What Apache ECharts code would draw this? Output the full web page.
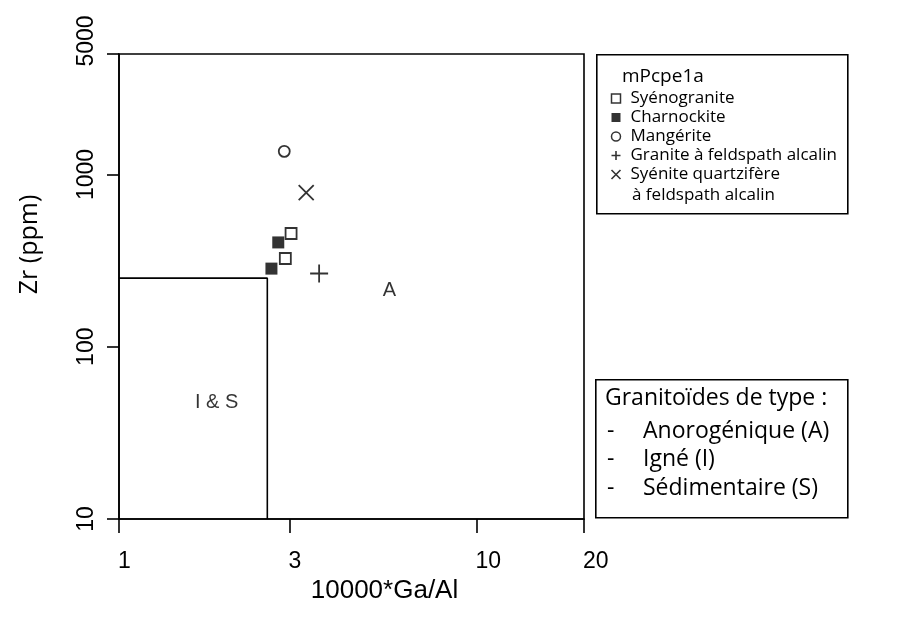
<!DOCTYPE html>
<html><head><meta charset="utf-8">
<script src="https://cdn.jsdelivr.net/npm/echarts@6/dist/echarts.min.js"></script>
<style>html,body{margin:0;padding:0;background:#fff}#c{width:915px;height:621px}</style>
</head><body><div id="c"></div>
<script>
// ---- data ----
const xTicks = [1, 3, 10, 20];
const yTicks = [10, 100, 1000, 5000];
const syenogranite = [[3.03, 454], [2.92, 325]];
const charnockite = [[2.79, 403], [2.67, 284]];
const mangerite = [[2.90, 1361]];
const graniteAlcalin = [[3.63, 266]];
const syeniteQz = [[3.34, 785]];
const boundary = [[1, 250], [2.6, 250], [2.6, 10]];
const fieldLabels = [[5.71, 213, 'A'], [1.876, 47.5, 'I & S']];
const names = ['Syénogranite', 'Charnockite', 'Mangérite', 'Granite à feldspath alcalin', 'Syénite quartzifère'];
const legendTitle = 'mPcpe1a';
const legendExtraLine = 'à feldspath alcalin';
const typeTitle = 'Granitoïdes de type :';
const typeItems = ['Anorogénique (A)', 'Igné (I)', 'Sédimentaire (S)'];

const BLK = '#000';
const HF = '"Open Sans", "Noto Sans", sans-serif';
const AF = '"Liberation Sans", Arial, sans-serif';
const PLUS = 'path://M0,10L20,10M10,0L10,20';
const CROSS = 'path://M0,0L20,20M20,0L0,20';

const chart = echarts.init(document.getElementById('c'), null, {renderer: 'canvas'});

const typeGraphics = [];
typeItems.forEach((t, i) => {
  const y = 431 + i * 28.7;
  typeGraphics.push({type: 'text', x: 607, y: y, style: {text: '-', font: '23px ' + HF, fill: BLK, verticalAlign: 'middle'}});
  typeGraphics.push({type: 'text', x: 643, y: y, style: {text: t, font: '23px ' + HF, fill: BLK, verticalAlign: 'middle'}});
});

const option = {
  backgroundColor: '#fff',
  animation: false,
  grid: {left: 119, top: 54, width: 465, height: 465, show: true, borderColor: BLK, borderWidth: 1.6, containLabel: false},
  xAxis: {
    type: 'log', logBase: 10, min: 1, max: 20,
    axisLine: {show: true, onZero: false, lineStyle: {color: BLK, width: 1.6}},
    axisTick: {show: true, customValues: xTicks, length: 14, lineStyle: {color: BLK, width: 1.6}},
    axisLabel: {show: true, customValues: xTicks, margin: 31, fontSize: 23, color: BLK, fontFamily: AF,
      align: 'left', padding: [0, 0, 0, -1], formatter: v => String(v)},
    minorTick: {show: false}, splitLine: {show: false},
    name: '10000*Ga/Al', nameLocation: 'middle', nameGap: 55,
    nameTextStyle: {fontSize: 26, color: BLK, fontFamily: AF, padding: [0, 0, 0, 66]}
  },
  yAxis: {
    type: 'log', logBase: 10, min: 10, max: 5000,
    axisLine: {show: true, onZero: false, lineStyle: {color: BLK, width: 1.6}},
    axisTick: {show: true, customValues: yTicks, length: 12, lineStyle: {color: BLK, width: 1.6}},
    axisLabel: {show: true, customValues: yTicks, rotate: 90, margin: 21, fontSize: 23, color: BLK, fontFamily: AF,
      formatter: v => (v === 5000 ? '{t|5000}' : String(v)),
      rich: {t: {padding: [0, 0, 0, 26], fontSize: 23, color: BLK, fontFamily: AF}}},
    minorTick: {show: false}, splitLine: {show: false},
    name: 'Zr (ppm)', nameLocation: 'middle', nameGap: 77,
    nameTextStyle: {fontSize: 25, color: BLK, fontFamily: HF, padding: [0, 0, 0, 84]}
  },
  legend: {
    orient: 'vertical', left: 609, top: 89, padding: 0, itemGap: 0,
    itemWidth: 9, itemHeight: 9, selectedMode: false,
    textStyle: {fontSize: 17, color: BLK, fontFamily: HF, lineHeight: 19, padding: [0, 0, 0, 5]},
    data: [
      {name: names[0], icon: 'rect', itemStyle: {color: '#fff', borderColor: BLK, borderWidth: 1.5}},
      {name: names[1], icon: 'rect', itemStyle: {color: BLK, borderColor: BLK, borderWidth: 0}},
      {name: names[2], icon: 'circle', itemStyle: {color: '#fff', borderColor: BLK, borderWidth: 1.5}},
      {name: names[3], icon: PLUS, itemStyle: {color: 'none', borderColor: BLK, borderWidth: 1.6}},
      {name: names[4], icon: CROSS, itemStyle: {color: 'none', borderColor: BLK, borderWidth: 1.6}}
    ]
  },
  graphic: [
    {type: 'rect', left: 596, top: 54, shape: {width: 251, height: 159}, style: {fill: '#fff', stroke: BLK, lineWidth: 1.6}, z: -1},
    {type: 'text', x: 622, y: 77, style: {text: legendTitle, font: '19px ' + HF, fill: BLK, verticalAlign: 'middle'}},
    {type: 'text', x: 632, y: 195, style: {text: legendExtraLine, font: '17px ' + HF, fill: BLK, verticalAlign: 'middle'}},
    {type: 'rect', left: 595, top: 379, shape: {width: 252, height: 138}, style: {fill: '#fff', stroke: BLK, lineWidth: 1.6}, z: -1},
    {type: 'text', x: 605, y: 398, style: {text: typeTitle, font: '23px ' + HF, fill: BLK, verticalAlign: 'middle'}}
  ].concat(typeGraphics),
  series: [
    {type: 'line', data: boundary, symbol: 'none', silent: true, lineStyle: {color: BLK, width: 1.6}, z: 1},
    {type: 'scatter', data: fieldLabels, symbolSize: 0, silent: true,
     label: {show: true, position: 'inside', formatter: p => p.data[2], fontSize: 20, color: BLK, fontFamily: AF}},
    {name: names[0], type: 'scatter', data: syenogranite, symbol: 'rect', symbolSize: 11, itemStyle: {color: '#fff', borderColor: BLK, borderWidth: 1.8}, z: 3},
    {name: names[1], type: 'scatter', data: charnockite, symbol: 'rect', symbolSize: 12, itemStyle: {color: BLK, borderColor: BLK, borderWidth: 0}, z: 3},
    {name: names[2], type: 'scatter', data: mangerite, symbol: 'circle', symbolSize: 11, itemStyle: {color: '#fff', borderColor: BLK, borderWidth: 1.8}, z: 3},
    {name: names[3], type: 'scatter', data: graniteAlcalin, symbol: PLUS, symbolSize: 18, itemStyle: {color: 'none', borderColor: BLK, borderWidth: 1.8}, z: 3},
    {name: names[4], type: 'scatter', data: syeniteQz, symbol: CROSS, symbolSize: 15, itemStyle: {color: 'none', borderColor: BLK, borderWidth: 1.8}, z: 3}
  ]
};
chart.setOption(option);
</script>
</body></html>
